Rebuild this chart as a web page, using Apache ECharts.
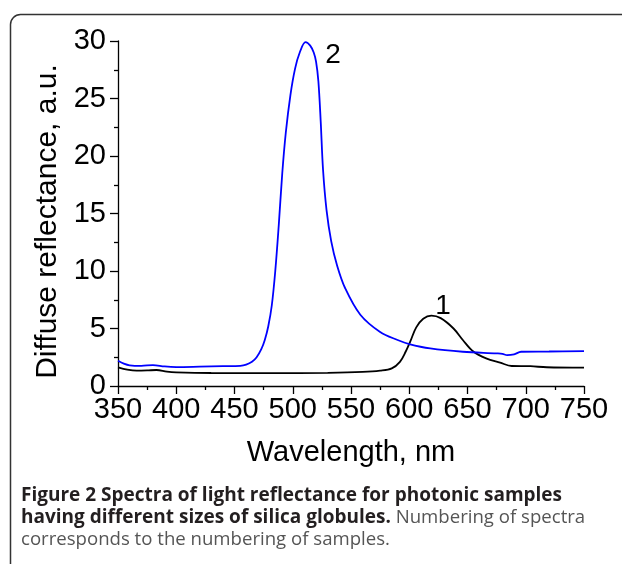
<!DOCTYPE html>
<html>
<head>
<meta charset="utf-8">
<script src="https://cdn.jsdelivr.net/npm/echarts@6/dist/echarts.min.js"></script>
<style>
html,body{margin:0;padding:0;background:#fff;}
#chart{width:622px;height:564px;}
</style>
</head>
<body>
<div id="chart"></div>
<script>
// Series 2 (blue)
const wl2 = [350,355,360,370,380,390,400,420,440,455,460,465,469,473,476,479,482,485,488,491,494,498,502,506,511,515,518,520,522,524,526,529,533,538,545,558,575,590,600,618,646,675,680,684,690,696,720,750];
const val2 = [2.2,1.95,1.8,1.75,1.82,1.7,1.65,1.68,1.72,1.75,1.85,2.1,2.5,3.2,4.0,5.2,7.0,10.0,14.0,18.5,22.0,25.3,27.6,29.0,29.9,29.6,29.0,28.2,26.5,23.0,18.8,15.3,12.6,10.5,8.5,6.2,4.7,4.0,3.65,3.27,2.98,2.84,2.8,2.68,2.75,2.98,3.0,3.04];
// Series 1 (black)
const wl1 = [350,358,366,375,383,392,400,430,480,530,560,575,585,592,597,601,606,612,619,627,638,646,655,666,678,688,704,718,750];
const val1 = [1.62,1.42,1.33,1.35,1.39,1.25,1.19,1.13,1.12,1.15,1.22,1.33,1.53,2.1,3.0,3.9,5.1,5.85,6.12,5.9,5.0,4.0,3.0,2.4,2.03,1.74,1.72,1.63,1.59];
// Curve number labels: [wavelength, value]
const label1 = [629, 6.95];
const label2 = [534.5, 28.8];
const xTicks = [350,400,450,500,550,600,650,700,750];
const yTicks = [0,5,10,15,20,25,30];

const chart = echarts.init(document.getElementById('chart'), null, {renderer:'canvas'});
const pair = (w, v) => w.map((x, i) => [x, v[i]]);
const axisCommon = {
  axisLine: {show: true, lineStyle: {color: '#000', width: 1.3}},
  axisTick: {show: true, inside: false, length: 8, lineStyle: {color: '#000', width: 1.3}},
  minorTick: {show: true, splitNumber: 2, length: 4, lineStyle: {color: '#000', width: 1.3}},
  splitLine: {show: false},
  axisLabel: {color: '#000', fontFamily: 'Liberation Sans', fontSize: 29}
};
chart.setOption({
  animation: false,
  backgroundColor: '#fff',
  grid: {left: 118, right: 38, top: 41, bottom: 178, containLabel: false},
  xAxis: Object.assign({}, axisCommon, {
    type: 'value', min: xTicks[0], max: xTicks[xTicks.length-1], interval: 50,
    name: 'Wavelength, nm', nameLocation: 'middle', nameGap: 52,
    nameTextStyle: {color: '#000', fontFamily: 'Liberation Sans', fontSize: 29},
    axisLabel: Object.assign({}, axisCommon.axisLabel, {margin: 9})
  }),
  yAxis: Object.assign({}, axisCommon, {
    type: 'value', min: yTicks[0], max: yTicks[yTicks.length-1], interval: 5,
    name: 'Diffuse reflectance, a.u.', nameLocation: 'middle', nameGap: 48,
    nameTextStyle: {color: '#000', fontFamily: 'Liberation Sans', fontSize: 30, padding: [0, 16, 0, 0]},
    axisLabel: Object.assign({}, axisCommon.axisLabel, {margin: 12})
  }),
  series: [
    {
      type: 'line', name: '1', data: pair(wl1, val1), showSymbol: false, smooth: 0.35,
      lineStyle: {color: '#000', width: 1.8}, itemStyle: {color: '#000'},
      markPoint: {symbol: 'circle', symbolSize: 0, data: [{coord: label1, value: '1'}],
        label: {show: true, formatter: '1', color: '#000', fontFamily: 'Liberation Sans', fontSize: 28, position: 'inside'}}
    },
    {
      type: 'line', name: '2', data: pair(wl2, val2), showSymbol: false, smooth: 0.35,
      lineStyle: {color: '#0000ff', width: 1.8}, itemStyle: {color: '#0000ff'},
      markPoint: {symbol: 'circle', symbolSize: 0, data: [{coord: label2, value: '2'}],
        label: {show: true, formatter: '2', color: '#000', fontFamily: 'Liberation Sans', fontSize: 28, position: 'inside'}}
    }
  ],
  graphic: [
    {type: 'rect', left: 8, top: 12, silent: true,
     shape: {x: 0, y: 0, width: 700, height: 700, r: 10},
     style: {fill: 'none', stroke: '#333', lineWidth: 1.5}},
    {type: 'text', left: 21, top: 486, style: {
      text: '{b|Figure 2 Spectra of light reflectance for photonic samples}\n{b|having different sizes of silica globules.}{n| Numbering of spectra}\n{n|corresponds to the numbering of samples.}',
      rich: {
        b: {fontFamily: 'Open Sans', fontWeight: 'bold', fontSize: 19, fill: '#231f20', lineHeight: 22},
        n: {fontFamily: 'Open Sans', fontWeight: 'normal', fontSize: 18.6, fill: '#555', lineHeight: 22}
      }
    }}
  ]
});
</script>
</body>
</html>
